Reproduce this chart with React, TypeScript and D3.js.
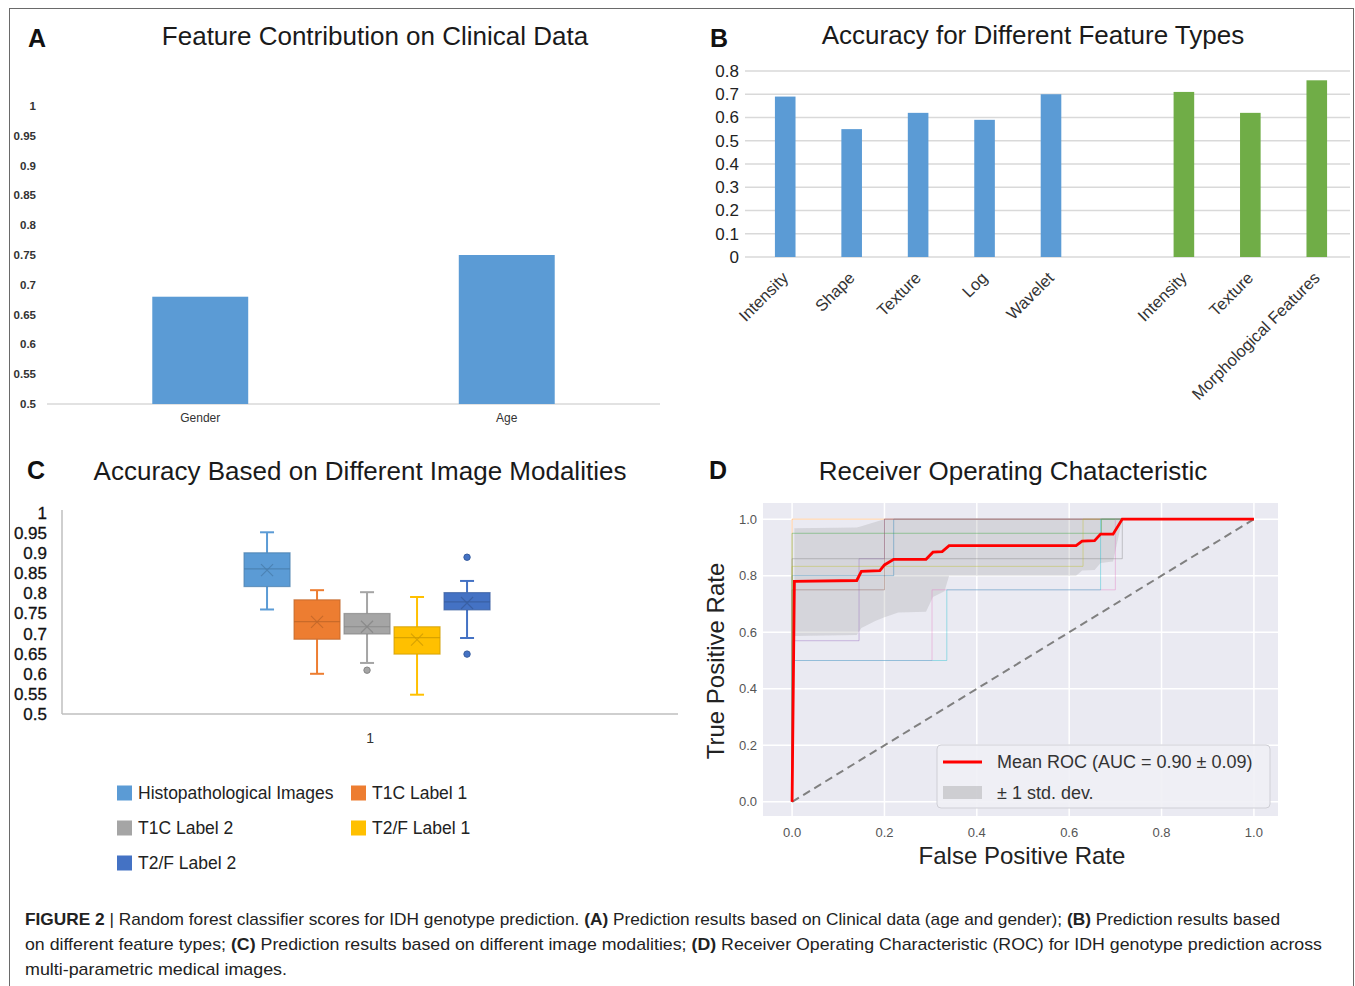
import * as d3 from 'd3';

// Panel A: clinical data
const clinicalCats = ['Gender', 'Age'];
const clinicalAcc = [0.68, 0.75];
const clinicalTicks = [0.5, 0.55, 0.6, 0.65, 0.7, 0.75, 0.8, 0.85, 0.9, 0.95, 1];

// Panel B: feature types (radiomic in blue, morphological in green)
const radiomicLabels = ['Intensity', 'Shape', 'Texture', 'Log', 'Wavelet'];
const radiomicAcc = [0.69, 0.55, 0.62, 0.59, 0.7];
const morphLabels = ['Intensity', 'Texture', 'Morphological Features'];
const morphAcc = [0.71, 0.62, 0.76];
const featureTicks = [0, 0.1, 0.2, 0.3, 0.4, 0.5, 0.6, 0.7, 0.8];

// Panel C: box plots per modality
const modalities = ['Histopathological Images', 'T1C Label 1', 'T1C Label 2', 'T2/F Label 1', 'T2/F Label 2'];
const modalityColors = ['#5B9BD5', '#ED7D31', '#A5A5A5', '#FFC000', '#4472C4'];
const boxMin = [0.76, 0.6, 0.627, 0.548, 0.689];
const boxQ1 = [0.817, 0.686, 0.699, 0.649, 0.759];
const boxMedian = [0.861, 0.73, 0.717, 0.69, 0.779];
const boxQ3 = [0.901, 0.784, 0.75, 0.717, 0.802];
const boxMax = [0.952, 0.808, 0.803, 0.791, 0.831];
const boxMean = [0.858, 0.729, 0.717, 0.685, 0.776];
const boxOutliers = [[], [], [0.609], [], [0.89, 0.649]];
const modalityTicks = [0.5, 0.55, 0.6, 0.65, 0.7, 0.75, 0.8, 0.85, 0.9, 0.95, 1];
const modalityCategory = ['1'];

// Panel D: ROC
const rocTicks = [0, 0.2, 0.4, 0.6, 0.8, 1.0];
const foldColors = ['#1f77b4', '#ff7f0e', '#2ca02c', '#9467bd', '#8c564b', '#e377c2', '#7f7f7f', '#bcbd22', '#17becf'];
const foldCurves = [
  [[0, 0], [0, 0.8], [0.22, 0.8], [0.22, 1], [1, 1]],
  [[0, 0], [0, 1], [1, 1]],
  [[0, 0], [0, 0.95], [0.67, 0.95], [0.67, 1], [1, 1]],
  [[0, 0], [0, 0.57], [0.145, 0.57], [0.145, 0.86], [0.2, 0.86], [0.2, 1], [1, 1]],
  [[0, 0], [0, 0.75], [0.2, 0.75], [0.2, 1], [1, 1]],
  [[0, 0], [0, 0.5], [0.303, 0.5], [0.303, 0.75], [0.7, 0.75], [0.7, 1], [1, 1]],
  [[0, 0], [0, 0.86], [0.715, 0.86], [0.715, 1], [1, 1]],
  [[0, 0], [0, 0.833], [0.63, 0.833], [0.63, 1], [1, 1]],
  [[0, 0], [0, 0.5], [0.335, 0.5], [0.335, 0.75], [0.668, 0.75], [0.668, 1], [1, 1]],
];
const meanFpr = [0, 0.005, 0.14, 0.15, 0.19, 0.2, 0.22, 0.29, 0.305, 0.325, 0.34, 0.615, 0.628, 0.655, 0.668, 0.695, 0.715, 1];
const meanTpr = [0, 0.78, 0.783, 0.815, 0.818, 0.838, 0.858, 0.858, 0.883, 0.885, 0.906, 0.906, 0.922, 0.924, 0.947, 0.947, 1, 1];
const bandFpr = [0.005, 0.14, 0.15, 0.18, 0.2, 0.23, 0.29, 0.305, 0.33, 0.34, 0.615, 0.628, 0.655, 0.668, 0.695, 0.715, 1];
const bandLower = [0.587, 0.59, 0.615, 0.64, 0.653, 0.67, 0.672, 0.725, 0.745, 0.8, 0.8, 0.818, 0.82, 0.845, 0.85, 1, 1];
const bandUpper = [0.968, 0.97, 0.975, 0.99, 1, 1, 1, 1, 1, 1, 1, 1, 1, 1, 1, 1, 1];

const FONT = "'Liberation Sans', Arial, Helvetica, sans-serif";

const fmtA = (d: number) => String(+d.toFixed(2));

export default function App() {
  // A
  const ax = d3.scaleBand<string>().domain(clinicalCats).range([47, 660]).paddingInner(0.687).paddingOuter(0.3435);
  const ay = d3.scaleLinear().domain([0.5, 1]).range([404, 106]);

  // B
  const featureBars = [
    ...radiomicLabels.map((l, i) => ({ key: `r${i}`, label: l, value: radiomicAcc[i], color: '#5B9BD5' })),
    ...morphLabels.map((l, i) => ({ key: `m${i}`, label: l, value: morphAcc[i], color: '#70AD47' })),
  ];
  const featureKeys = [...radiomicLabels.map((_, i) => `r${i}`), 'gap', ...morphLabels.map((_, i) => `m${i}`)];
  const bx = d3.scaleBand<string>().domain(featureKeys).range([752, 1350]).paddingInner(0.69).paddingOuter(0.345);
  const by = d3.scaleLinear().domain([0, 0.8]).range([257, 71]);

  // C
  const cx = d3.scaleBand<string>().domain(modalityCategory).range([62, 678]).paddingOuter(0.752).align(0.492);
  const cxi = d3.scaleBand<string>().domain(modalities).range([0, cx.bandwidth()]).paddingInner(0.08);
  const cy = d3.scaleLinear().domain([0.5, 1]).range([714, 513]);

  // D
  const dx = d3.scaleLinear().domain([-0.05, 1.05]).range([769, 1277]);
  const dy = d3.scaleLinear().domain([-0.05, 1.05]).range([816, 505]);
  const rocLine = d3.line<number[]>().x(d => dx(d[0])).y(d => dy(d[1]));
  const meanPts = meanFpr.map((f, i) => [f, meanTpr[i]]);
  const band = d3.area<number>()
    .x(d => dx(d))
    .y0((_, i) => dy(bandLower[i]))
    .y1((_, i) => dy(bandUpper[i]));

  const title = (x: number, y: number, t: string) => (
    <text x={x} y={y} textAnchor="middle" fontSize={26} fill="#1a1a1a">{t}</text>
  );
  const panelLabel = (x: number, y: number, t: string) => (
    <text x={x} y={y} fontSize={25} fontWeight="bold" fill="#111">{t}</text>
  );

  return (
    <svg width={1355} height={986} style={{ position: 'absolute', left: 0, top: 0, background: '#fff' }} fontFamily={FONT}>
      <rect x={9.5} y={8.5} width={1344} height={990} fill="none" stroke="#6a6a6a" strokeWidth={1} />

      {/* Panel A */}
      {panelLabel(28, 47, 'A')}
      {title(375, 45, 'Feature Contribution on Clinical Data')}
      {clinicalTicks.map(t => (
        <text key={t} x={36} y={ay(t)} dy="0.35em" textAnchor="end" fontSize={11.5} fontWeight="bold" fill="#333">{fmtA(t)}</text>
      ))}
      <line x1={47} x2={660} y1={ay(0.5)} y2={ay(0.5)} stroke="#d9d9d9" strokeWidth={1.5} />
      {clinicalCats.map((c, i) => (
        <g key={c}>
          <rect x={ax(c)} y={ay(clinicalAcc[i])} width={ax.bandwidth()} height={ay(0.5) - ay(clinicalAcc[i])} fill="#5B9BD5" />
          <text x={(ax(c) as number) + ax.bandwidth() / 2} y={422} textAnchor="middle" fontSize={12} fill="#333">{c}</text>
        </g>
      ))}

      {/* Panel B */}
      {panelLabel(710, 47, 'B')}
      {title(1033, 44, 'Accuracy for Different Feature Types')}
      {featureTicks.map(t => (
        <g key={t}>
          <line x1={745} x2={1350} y1={by(t)} y2={by(t)} stroke="#d9d9d9" strokeWidth={1.5} />
          <text x={739} y={by(t)} dy="0.35em" textAnchor="end" fontSize={17} fill="#222">{String(t)}</text>
        </g>
      ))}
      {featureBars.map(b => {
        const x0 = bx(b.key) as number;
        const cxm = x0 + bx.bandwidth() / 2;
        return (
          <g key={b.key}>
            <rect x={x0} y={by(b.value)} width={bx.bandwidth()} height={by(0) - by(b.value)} fill={b.color} />
            <text transform={`translate(${cxm + 4},${279}) rotate(-45)`} textAnchor="end" fontSize={16.5} fill="#333">{b.label}</text>
          </g>
        );
      })}

      {/* Panel C */}
      {panelLabel(27, 479, 'C')}
      {title(360, 480, 'Accuracy Based on Different Image Modalities')}
      <line x1={62} x2={62} y1={510} y2={714} stroke="#bfbfbf" strokeWidth={1.5} />
      <line x1={62} x2={678} y1={714} y2={714} stroke="#bfbfbf" strokeWidth={1.5} />
      {modalityTicks.map(t => (
        <text key={t} x={47} y={cy(t)} dy="0.35em" textAnchor="end" fontSize={17} fill="#111" stroke="#111" strokeWidth={0.3}>{fmtA(t)}</text>
      ))}
      <text x={(cx('1') as number) + cx.bandwidth() / 2 + 3} y={743} textAnchor="middle" fontSize={14} fill="#333">1</text>
      {modalities.map((m, i) => {
        const x0 = (cx('1') as number) + (cxi(m) as number);
        const w = cxi.bandwidth();
        const mid = x0 + w / 2;
        const col = modalityColors[i];
        const dark = d3.color(col)!.darker(0.6).formatHex();
        const mx = cy(boxMean[i]);
        return (
          <g key={m}>
            <line x1={mid} x2={mid} y1={cy(boxMax[i])} y2={cy(boxQ3[i])} stroke={col} strokeWidth={2} />
            <line x1={mid} x2={mid} y1={cy(boxQ1[i])} y2={cy(boxMin[i])} stroke={col} strokeWidth={2} />
            <line x1={mid - 7} x2={mid + 7} y1={cy(boxMax[i])} y2={cy(boxMax[i])} stroke={col} strokeWidth={2} />
            <line x1={mid - 7} x2={mid + 7} y1={cy(boxMin[i])} y2={cy(boxMin[i])} stroke={col} strokeWidth={2} />
            <rect x={x0} y={cy(boxQ3[i])} width={w} height={cy(boxQ1[i]) - cy(boxQ3[i])} fill={col} stroke={dark} strokeWidth={1.2} strokeOpacity={0.7} />
            <line x1={x0} x2={x0 + w} y1={cy(boxMedian[i])} y2={cy(boxMedian[i])} stroke={dark} strokeWidth={1.2} strokeOpacity={0.8} />
            <path d={`M${mid - 6},${mx - 6}L${mid + 6},${mx + 6}M${mid - 6},${mx + 6}L${mid + 6},${mx - 6}`} stroke={dark} strokeWidth={1.2} strokeOpacity={0.8} />
            {boxOutliers[i].map((o, k) => (
              <circle key={k} cx={mid} cy={cy(o)} r={3.2} fill={col} stroke={dark} strokeWidth={1} />
            ))}
          </g>
        );
      })}
      {modalities.map((m, i) => {
        const colX = [117, 351][i % 2];
        const rowY = [793, 828, 863][Math.floor(i / 2)];
        return (
          <g key={m}>
            <rect x={colX} y={rowY - 7.5} width={15} height={15} fill={modalityColors[i]} />
            <text x={colX + 21} y={rowY} dy="0.35em" fontSize={17.5} fill="#222">{m}</text>
          </g>
        );
      })}

      {/* Panel D */}
      {panelLabel(709, 479, 'D')}
      {title(1013, 480, 'Receiver Operating Chatacteristic')}
      <rect x={dx(-0.05) - 6} y={dy(1.05) - 2} width={dx(1.05) - dx(-0.05) + 7} height={dy(-0.05) - dy(1.05) + 2} fill="#EAEAF2" />
      {rocTicks.map(t => (
        <g key={t}>
          <line x1={dx(t)} x2={dx(t)} y1={dy(1.05) - 2} y2={dy(-0.05)} stroke="#fff" strokeWidth={1.5} />
          <line x1={dx(-0.05) - 6} x2={dx(1.05) + 1} y1={dy(t)} y2={dy(t)} stroke="#fff" strokeWidth={1.5} />
          <text x={dx(t)} y={832} dy="0.35em" textAnchor="middle" fontSize={13} fill="#555">{d3.format('.1f')(t)}</text>
          <text x={757} y={dy(t)} dy="0.35em" textAnchor="end" fontSize={13} fill="#555">{d3.format('.1f')(t)}</text>
        </g>
      ))}
      <path d={band(bandFpr) || ''} fill="#808080" fillOpacity={0.2} />
      {foldCurves.map((c, i) => (
        <path key={i} d={rocLine(c) || ''} fill="none" stroke={foldColors[i]} strokeWidth={1} strokeOpacity={0.4} />
      ))}
      <path d={rocLine([[0, 0], [1, 1]]) || ''} fill="none" stroke="#808080" strokeWidth={2} strokeDasharray="8,5" />
      <path d={rocLine(meanPts) || ''} fill="none" stroke="#ff0000" strokeWidth={2.8} />
      <text transform={`translate(${724},${661}) rotate(-90)`} textAnchor="middle" fontSize={24} fill="#222">True Positive Rate</text>
      <text x={1022} y={864} textAnchor="middle" fontSize={24} fill="#222">False Positive Rate</text>
      <rect x={937} y={745} width={333} height={63} rx={4} fill="#F0F0F5" fillOpacity={0.9} stroke="#cfcfd6" />
      <line x1={943} x2={982} y1={762} y2={762} stroke="#ff0000" strokeWidth={2.8} />
      <text x={997} y={762} dy="0.35em" fontSize={18} fill="#333">Mean ROC (AUC = 0.90 ± 0.09)</text>
      <rect x={943} y={786} width={39} height={13} fill="#808080" fillOpacity={0.3} />
      <text x={997} y={793} dy="0.35em" fontSize={18} fill="#333">± 1 std. dev.</text>

      {/* Caption */}
      <g fontSize={17} fill="#222">
        <text x={25} y={925} textLength={1255} lengthAdjust="spacingAndGlyphs">
          <tspan fontWeight="bold">FIGURE 2</tspan> | Random forest classifier scores for IDH genotype prediction. <tspan fontWeight="bold">(A)</tspan> Prediction results based on Clinical data (age and gender); <tspan fontWeight="bold">(B)</tspan> Prediction results based
        </text>
        <text x={25} y={950} textLength={1297} lengthAdjust="spacingAndGlyphs">
          on different feature types; <tspan fontWeight="bold">(C)</tspan> Prediction results based on different image modalities; <tspan fontWeight="bold">(D)</tspan> Receiver Operating Characteristic (ROC) for IDH genotype prediction across
        </text>
        <text x={25} y={975} textLength={262} lengthAdjust="spacingAndGlyphs">multi-parametric medical images.</text>
      </g>
    </svg>
  );
}
